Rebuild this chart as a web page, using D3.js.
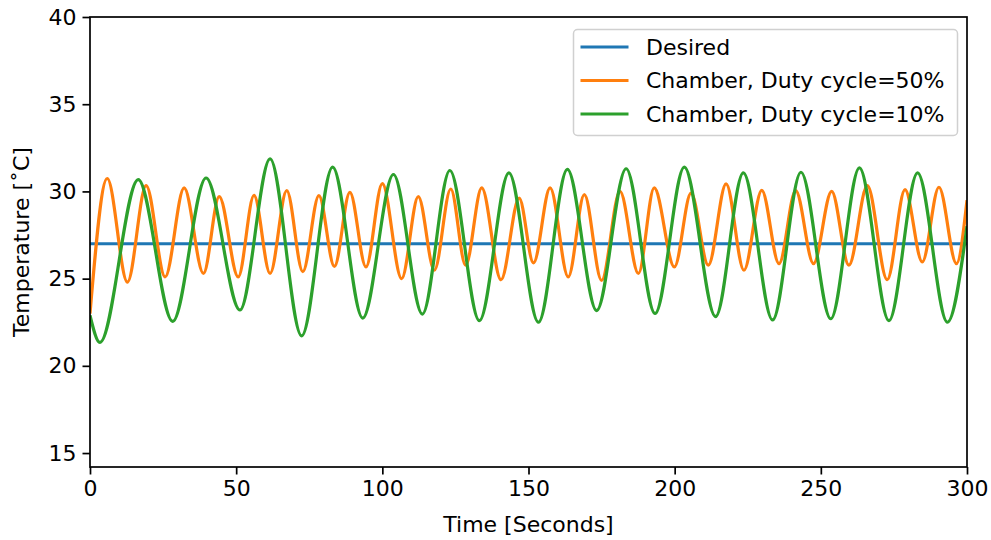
<!DOCTYPE html>
<html>
<head>
<meta charset="utf-8">
<script src="https://cdn.jsdelivr.net/npm/d3@7"></script>
<style>
  body { margin: 0; background: #fff; }
  text { font-family: "DejaVu Sans", sans-serif; }
</style>
</head>
<body>
<script>
// series values, [seconds, degrees C]
var desired = [[0, 27], [300, 27]];

var duty50 = [
  [0, 23.0], [5.9, 30.74], [12.8, 24.8], [19.2, 30.33], [25.7, 25.1], [32.2, 30.2],
  [38.8, 25.3], [44.2, 29.7], [50.7, 25.1], [56.1, 29.77], [61.6, 25.3], [67.3, 30.04],
  [72.8, 25.4], [78.3, 29.76], [83.6, 25.7], [88.9, 29.95], [94.4, 25.67], [100.0, 30.45],
  [106.6, 25.0], [112.3, 29.7], [117.8, 25.48], [123.4, 30.14], [128.5, 25.77], [134.0, 30.2],
  [140.6, 24.94], [146.8, 29.62], [151.7, 25.9], [157.4, 30.2], [163.6, 25.1], [169.1, 29.82],
  [175.0, 24.9], [181.3, 30.0], [187.6, 25.3], [193.0, 30.2], [199.9, 25.67], [205.6, 29.9],
  [211.5, 25.77], [217.6, 30.43], [223.7, 25.48], [229.8, 30.06], [235.7, 25.86], [241.4, 30.04],
  [247.5, 25.86], [253.7, 30.0], [259.6, 25.77], [265.9, 30.33], [272.7, 24.94], [278.8, 30.1],
  [284.7, 25.96], [290.4, 30.24], [296.4, 25.86], [300, 29.5]
];

var duty10 = [
  [0, 22.9], [3.4, 21.34], [16.5, 30.68], [28.3, 22.55], [39.7, 30.77], [51.3, 23.2],
  [61.6, 31.87], [72.4, 21.72], [83.0, 31.39], [93.3, 22.74], [103.8, 30.97], [113.7, 22.97],
  [123.1, 31.2], [133.2, 22.59], [143.3, 31.06], [153.4, 22.5], [163.3, 31.26], [173.3, 23.17],
  [183.4, 31.3], [193.3, 23.0], [203.3, 31.39], [214.0, 22.82], [223.5, 31.06], [233.5, 22.63],
  [243.2, 31.1], [253.4, 22.7], [263.2, 31.35], [273.3, 22.59], [283.1, 31.06], [293.3, 22.5],
  [300, 28.0]
];

var seriesNames = ["Desired", "Chamber, Duty cycle=50%", "Chamber, Duty cycle=10%"];
var xTicks = [0, 50, 100, 150, 200, 250, 300];
var yTicks = [15, 20, 25, 30, 35, 40];

var width = 991,
  height = 540;
var margin = {top: 17, right: 24, bottom: 73, left: 90};
var fontSize = 22;

var svg = d3.select("body").append("svg")
  .attr("width", width)
  .attr("height", height);

var x = d3.scaleLinear().domain([0, 300]).range([margin.left, width - margin.right]);
var y = d3.scaleLinear().domain([14.2, 40]).range([height - margin.bottom, margin.top]);

svg.append("clipPath").attr("id", "plot")
  .append("rect")
  .attr("x", margin.left).attr("y", margin.top)
  .attr("width", x.range()[1] - margin.left)
  .attr("height", y.range()[0] - margin.top);

var line = d3.line()
  .x(function(d) { return x(d[0]); })
  .y(function(d) { return y(d[1]); })
  .curve(d3.curveMonotoneX);

var colors = ["#1f77b4", "#ff7f0e", "#2ca02c"];
var allSeries = [desired, duty50, duty10];

var lines = svg.append("g").attr("clip-path", "url(#plot)");
allSeries.forEach(function(s, i) {
  lines.append("path")
    .datum(s)
    .attr("d", line)
    .attr("fill", "none")
    .attr("stroke", colors[i])
    .attr("stroke-width", 3.2)
    .attr("stroke-linejoin", "round");
});

// axes
var xAxis = svg.append("g")
  .attr("transform", "translate(0," + y.range()[0] + ")")
  .call(d3.axisBottom(x).tickValues(xTicks).tickSize(7.5).tickPadding(6));
var yAxis = svg.append("g")
  .attr("transform", "translate(" + margin.left + ",0)")
  .call(d3.axisLeft(y).tickValues(yTicks).tickSize(7.5).tickPadding(6));

[xAxis, yAxis].forEach(function(a) {
  a.select(".domain").remove();
  a.selectAll("line").attr("stroke", "#000").attr("stroke-width", 1.7);
  a.selectAll("text")
    .attr("fill", "#000")
    .style("font-size", fontSize + "px");
});

// frame
svg.append("rect")
  .attr("x", margin.left).attr("y", margin.top)
  .attr("width", x.range()[1] - margin.left)
  .attr("height", y.range()[0] - margin.top)
  .attr("fill", "none")
  .attr("stroke", "#000")
  .attr("stroke-width", 1.7);

svg.append("text")
  .attr("x", (x.range()[0] + x.range()[1]) / 2)
  .attr("y", 532)
  .attr("text-anchor", "middle")
  .style("font-size", fontSize + "px")
  .text("Time [Seconds]");

svg.append("text")
  .attr("transform", "translate(29," + ((y.range()[0] + y.range()[1]) / 2) + ") rotate(-90)")
  .attr("text-anchor", "middle")
  .style("font-size", fontSize + "px")
  .text("Temperature [˚C]");

// legend
var legend = svg.append("g").attr("transform", "translate(573.5,29.5)");
legend.append("rect")
  .attr("width", 384)
  .attr("height", 106)
  .attr("rx", 4)
  .attr("fill", "#fff")
  .attr("fill-opacity", 0.8)
  .attr("stroke", "#d0d0d0")
  .attr("stroke-width", 1.5);

seriesNames.forEach(function(name, i) {
  var ly = 17.5 + i * 33.5;
  legend.append("line")
    .attr("x1", 7).attr("x2", 55)
    .attr("y1", ly).attr("y2", ly)
    .attr("stroke", colors[i])
    .attr("stroke-width", 3.2);
  legend.append("text")
    .attr("x", 72.5)
    .attr("y", ly)
    .attr("dy", "0.36em")
    .style("font-size", fontSize + "px")
    .text(name);
});
</script>
</body>
</html>
